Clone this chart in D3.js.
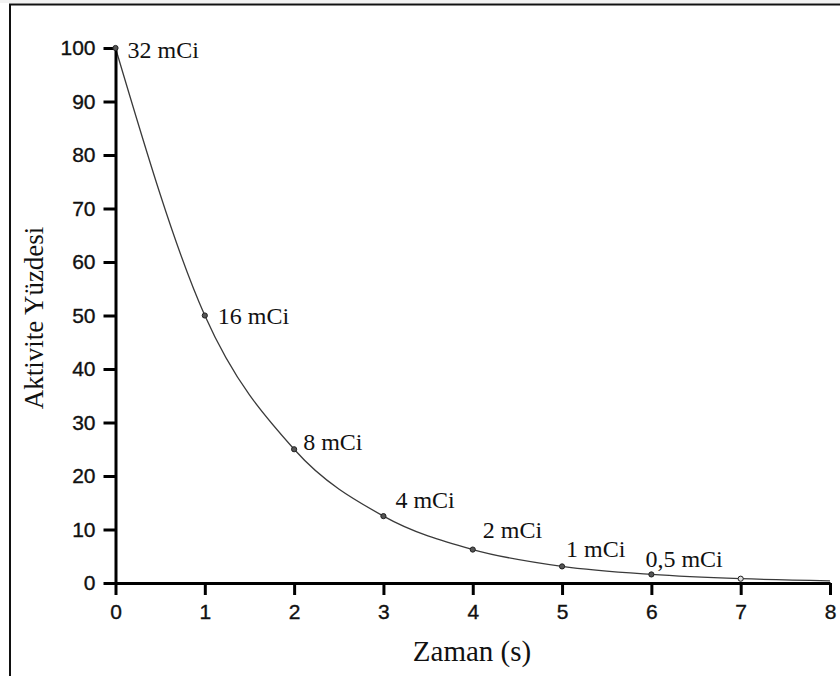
<!DOCTYPE html>
<html>
<head>
<meta charset="utf-8">
<script src="https://cdn.jsdelivr.net/npm/d3@7"></script>
<style>
  body { margin: 0; background: #fff; }
  .tick text { font-family: "Liberation Sans", Arial, sans-serif; font-size: 21px; fill: #111; stroke: #111; stroke-width: 0.35px; }
</style>
</head>
<body>
<div id="chart"></div>
<script>
// values
var times = [0, 1, 2, 3, 4, 5, 6, 7, 8];
var activity = [100, 50, 25, 12.5, 6.25, 3.1, 1.6, 0.8, 0.4];
var doseLabels = ["32 mCi", "16 mCi", "8 mCi", "4 mCi", "2 mCi", "1 mCi", "0,5 mCi"];
var xTicks = [0, 1, 2, 3, 4, 5, 6, 7, 8];
var yTicks = [0, 10, 20, 30, 40, 50, 60, 70, 80, 90, 100];

// label offsets from their point (layout, not data)
var labelOffsets = [[12, 10], [13, 8], [9, 1], [12, -8], [10, -12], [4, -9], [-6, -7]];

var width = 840, height = 676;

var svg = d3.select("#chart")
    .append("svg")
    .attr("width", width)
    .attr("height", height);

// frame of the original picture
svg.append("rect").attr("x", 0).attr("y", 0).attr("width", width).attr("height", 3).attr("fill", "#f2f2f2");
svg.append("line").attr("x1", 9).attr("x2", width).attr("y1", 4.5).attr("y2", 4.5)
    .attr("stroke", "#111").attr("stroke-width", 2);
svg.append("line").attr("x1", 10).attr("x2", 10).attr("y1", 4).attr("y2", height)
    .attr("stroke", "#111").attr("stroke-width", 2);

var x = d3.scaleLinear().domain([0, 8]).range([115.5, 830]);
var y = d3.scaleLinear().domain([0, 100]).range([583, 48]);

// curve
var line = d3.line()
    .x(function (d, i) { return x(times[i]); })
    .y(function (d) { return y(d); })
    .curve(d3.curveMonotoneX);

svg.append("path")
    .datum(activity)
    .attr("d", line)
    .attr("fill", "none")
    .attr("stroke", "#3a3a3a")
    .attr("stroke-width", 1.3);

// axes
var yAxis = svg.append("g")
    .attr("transform", "translate(" + x(0) + ",0)")
    .call(d3.axisLeft(y).tickValues(yTicks).tickSize(12).tickSizeOuter(0).tickPadding(8));

var xAxis = svg.append("g")
    .attr("transform", "translate(0," + y(0) + ")")
    .call(d3.axisBottom(x).tickValues(xTicks).tickSize(12).tickSizeOuter(0).tickPadding(9));

[yAxis, xAxis].forEach(function (g) {
    g.select(".domain").attr("stroke", "#000").attr("stroke-width", 3);
    g.selectAll(".tick line").attr("stroke", "#000").attr("stroke-width", 3);
});

// points
svg.selectAll("circle.pt")
    .data(activity.slice(0, 8))
    .enter()
    .append("circle")
    .attr("class", "pt")
    .attr("cx", function (d, i) { return x(times[i]); })
    .attr("cy", function (d) { return y(d); })
    .attr("r", 2.6)
    .attr("fill", function (d, i) { return i == 7 ? "#ddd" : "#555"; })
    .attr("stroke", "#222")
    .attr("stroke-width", 1);

// dose labels
svg.selectAll("text.dose")
    .data(doseLabels)
    .enter()
    .append("text")
    .attr("class", "dose")
    .attr("x", function (d, i) { return x(times[i]) + labelOffsets[i][0]; })
    .attr("y", function (d, i) { return y(activity[i]) + labelOffsets[i][1]; })
    .text(function (d) { return d; })
    .attr("font-family", "'Liberation Serif', 'Times New Roman', serif")
    .attr("font-size", "24px")
    .attr("fill", "#111");

// axis titles
svg.append("text")
    .attr("transform", "translate(43,318) rotate(-90)")
    .attr("text-anchor", "middle")
    .attr("font-family", "'Liberation Serif', 'Times New Roman', serif")
    .attr("font-size", "27px")
    .attr("fill", "#111")
    .text("Aktivite Yüzdesi");

svg.append("text")
    .attr("x", 472)
    .attr("y", 661)
    .attr("text-anchor", "middle")
    .attr("font-family", "'Liberation Serif', 'Times New Roman', serif")
    .attr("font-size", "29px")
    .attr("fill", "#111")
    .text("Zaman (s)");
</script>
</body>
</html>
